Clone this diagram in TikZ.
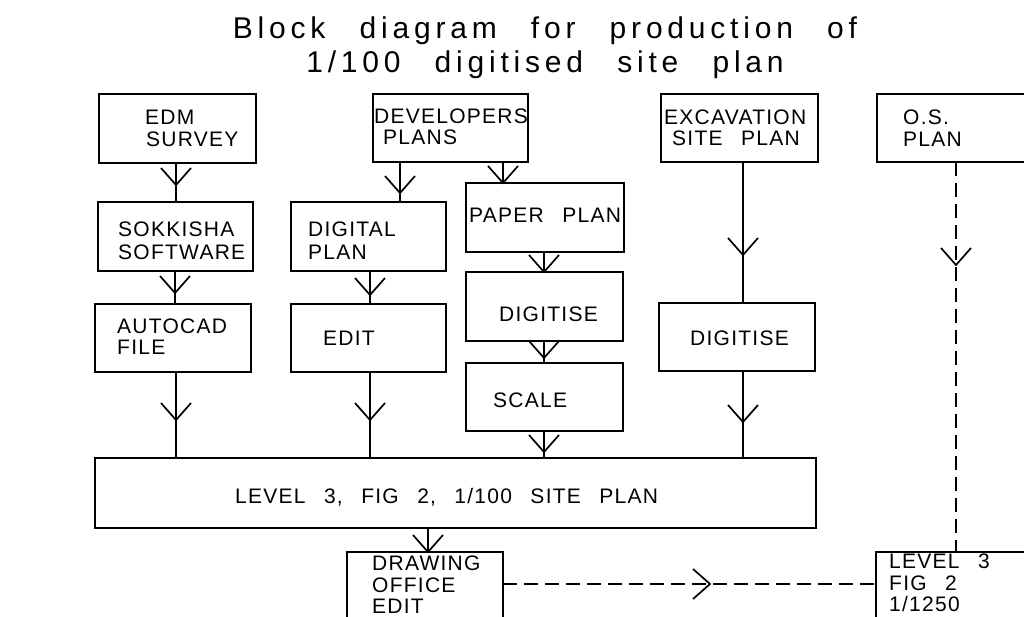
\documentclass[tikz,border=0pt]{standalone}
\usepackage{fontspec}
\setmainfont{Liberation Sans}[LetterSpace=6,WordSpace=2.6]
\newfontfamily\titlefont{Liberation Sans}[LetterSpace=16,WordSpace=2.6]
\usetikzlibrary{decorations.markings}
\newcommand\bx[5]{\node[box,minimum width={#4-#2},minimum height={#5-#3}] (#1) at ({(#2+#4)/2},{(#3+#5)/2}) {};}
\tikzset{
  box/.style={draw,line width=1.7pt,inner sep=0pt,outer sep=0pt,rectangle},
  lbl/.style={anchor=base west,inner sep=0pt,font=\fontsize{21}{24}\selectfont},
  ttl/.style={anchor=base,inner sep=0pt,font=\titlefont\fontsize{30}{34}\selectfont},
  conn/.style={line width=1.7pt},
  dsh/.style={dash pattern=on 14pt off 7pt},
  vmark/.style={postaction={decorate,decoration={markings,
     mark=at position #1 with {\draw[solid,line width=1.7pt] (-17pt,15pt) -- (0pt,0pt) -- (-17pt,-15pt);}}}}
}
\begin{document}
\begin{tikzpicture}[x=1pt,y=-1pt]
\useasboundingbox (0,0) rectangle (1024,617);
\clip (0,0) rectangle (1024,617);
\fill[white] (0,0) rectangle (1024,617);
% title
\node[ttl] (t1) at (545,39) {Block diagram for production of};
\node[ttl] (t2) at (545,73) {1/100 digitised site plan};
% boxes
\bx{edm}{99}{94}{256}{163}
\bx{dev}{373}{94}{528}{162}
\bx{exc}{661}{94}{818}{162}
\bx{os}{877}{94}{1060}{162}
\bx{sok}{98}{202}{253}{271}
\bx{dig}{291}{202}{446}{271}
\bx{pap}{466}{183}{624}{252}
\bx{auto}{95}{304}{251}{372}
\bx{edit}{291}{304}{446}{372}
\bx{dga}{466}{272}{623}{341}
\bx{scl}{466}{363}{623}{431}
\bx{dgb}{659}{303}{815}{371}
\bx{lvl}{95}{458}{816}{528}
\bx{drw}{347}{552}{503}{660}
\bx{lth}{876}{552}{1060}{660}
% labels
\node[lbl] (edm1) at (145,125) {EDM};
\node[lbl] (edm2) at (146,147) {SURVEY};
\node[lbl] (dev1) at (374,124) {DEVELOPERS};
\node[lbl] (dev2) at (383,145) {PLANS};
\node[lbl] (exc1) at (664,125) {EXCAVATION};
\node[lbl] (exc2) at (672,146) {SITE PLAN};
\node[lbl] (os1) at (903,125) {O.S.};
\node[lbl] (os2) at (903,147) {PLAN};
\node[lbl] (pap1) at (469,223) {PAPER PLAN};
\node[lbl] (sok1) at (118,237) {SOKKISHA};
\node[lbl] (sok2) at (118,260) {SOFTWARE};
\node[lbl] (dig1) at (308,237) {DIGITAL};
\node[lbl] (dig2) at (308,260) {PLAN};
\node[lbl] (auto1) at (117,333) {AUTOCAD};
\node[lbl] (auto2) at (117,354) {FILE};
\node[lbl] (edit1) at (323,345) {EDIT};
\node[lbl] (dga1) at (499,321) {DIGITISE};
\node[lbl] (scl1) at (493,407) {SCALE};
\node[lbl] (dgb1) at (690,345) {DIGITISE};
\node[lbl] (lvl1) at (235,503) {LEVEL 3, FIG 2, 1/100 SITE PLAN};
\node[lbl] (drw1) at (372,570) {DRAWING};
\node[lbl] (drw2) at (372,592) {OFFICE};
\node[lbl] (drw3) at (372,613) {EDIT};
\node[lbl] (lth1) at (889,568) {LEVEL 3};
\node[lbl] (lth2) at (889,590) {FIG 2};
\node[lbl] (lth3) at (889,611) {1/1250};
% connectors
\draw[conn,vmark=22pt] (176,0 |- edm.south) -- (176,0 |- sok.north);
\draw[conn,vmark=31pt] (400,0 |- dev.south) -- (400,0 |- dig.north);
\draw[conn,vmark=1] (503,0 |- dev.south) -- (503,0 |- pap.north);
\draw[conn,vmark=93pt] (743,0 |- exc.south) -- (743,0 |- dgb.north);
\draw[conn,vmark=22pt] (175,0 |- sok.south) -- (175,0 |- auto.north);
\draw[conn,vmark=24pt] (370,0 |- dig.south) -- (370,0 |- edit.north);
\draw[conn,vmark=1] (544,0 |- pap.south) -- (544,0 |- dga.north);
\draw[conn,vmark=17pt] (544,0 |- dga.south) -- (544,0 |- scl.north);
\draw[conn,vmark=48pt] (176,0 |- auto.south) -- (176,0 |- lvl.north);
\draw[conn,vmark=48pt] (370,0 |- edit.south) -- (370,0 |- lvl.north);
\draw[conn,vmark=21pt] (544,0 |- scl.south) -- (544,0 |- lvl.north);
\draw[conn,vmark=51pt] (743,0 |- dgb.south) -- (743,0 |- lvl.north);
\draw[conn,vmark=1] (428,0 |- lvl.south) -- (428,0 |- drw.north);
\draw[conn,dsh,vmark=103pt] (956,0 |- os.south) -- (956,0 |- lth.north);
\draw[conn,dsh,vmark=207pt] (drw.east |- 0,584) -- (lth.west |- 0,584);
\end{tikzpicture}
\end{document}
